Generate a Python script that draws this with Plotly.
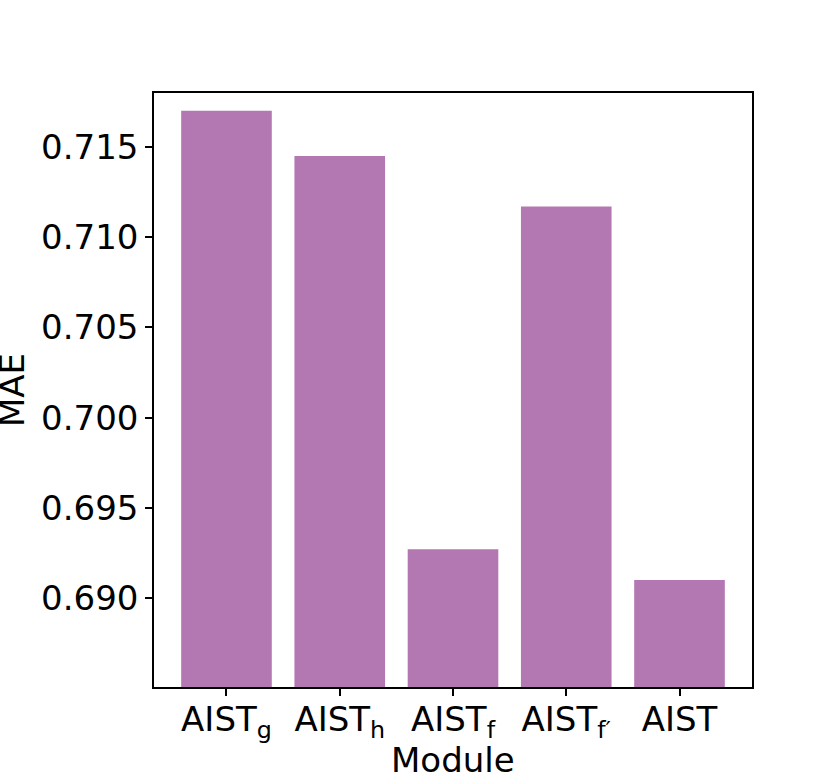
"""MAE per module variant, bar chart."""

import plotly.graph_objects as go

MODULES = ["AIST<sub>g</sub>", "AIST<sub>h</sub>", "AIST<sub>f</sub>", "AIST<sub>f′</sub>", "AIST"]
MAE = [0.7170, 0.7145, 0.6927, 0.7117, 0.6910]
Y_TICKS = [0.690, 0.695, 0.700, 0.705, 0.710, 0.715]

_BAR_COLOR = "#b377b2"
_FONT = "DejaVu Sans"
_SIZE = 34

fig = go.Figure(
    go.Bar(
        x=list(range(len(MODULES))),
        y=MAE,
        marker={"color": _BAR_COLOR, "line": {"width": 0}},
        width=0.8,
    )
)

axis_common = dict(
    showline=True,
    linecolor="black",
    linewidth=1.5,
    mirror=True,
    ticks="outside",
    ticklen=7,
    tickwidth=1.5,
    tickcolor="black",
    showgrid=False,
    zeroline=False,
    automargin=False,
    tickfont={"size": _SIZE, "color": "black", "family": _FONT},
)

fig.update_layout(
    width=830,
    height=774,
    margin={"l": 154, "r": 78, "t": 93, "b": 87},
    paper_bgcolor="white",
    plot_bgcolor="white",
    font={"family": _FONT, "color": "black", "size": _SIZE},
    showlegend=False,
    xaxis=dict(
        axis_common,
        range=[-0.64, 4.64],
        tickvals=list(range(len(MODULES))),
        ticktext=MODULES,
        ticklabelstandoff=-6,
    ),
    yaxis=dict(
        axis_common,
        range=[0.68507, 0.71799],
        tickvals=Y_TICKS,
        tickformat=".3f",
    ),
)

# axis titles placed as annotations so they sit exactly where the reference has them
fig.add_annotation(
    text="Module", xref="paper", yref="paper", x=0.5, y=-0.1225,
    xanchor="center", yanchor="middle", showarrow=False,
    font={"size": _SIZE, "color": "black"},
)
fig.add_annotation(
    text="MAE", xref="paper", yref="paper", x=-0.2375, y=0.5,
    xanchor="center", yanchor="middle", textangle=-90, showarrow=False,
    font={"size": _SIZE, "color": "black"},
)

# drop the default body margin so the figure fills the window from the corner
fig.write_html(
    "out.html",
    config={"displayModeBar": False},
    post_script="document.body.style.margin = '0px';",
)
